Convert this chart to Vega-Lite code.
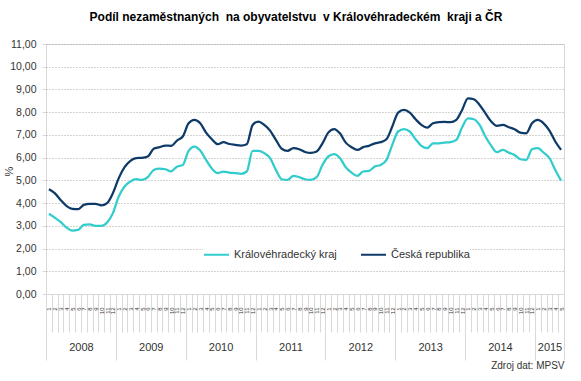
{
  "$schema": "https://vega.github.io/schema/vega-lite/v6.json",
  "width": 518,
  "height": 250,
  "autosize": {"type": "none"},
  "padding": {"left": 46, "top": 44, "right": 17, "bottom": 87},
  "background": "white",
  "config": {
    "font": "Liberation Sans",
    "view": {"stroke": "#d9d9d9", "strokeWidth": 1}
  },
  "title": {
    "text": "Podíl nezaměstnaných\u00a0 na obyvatelstvu\u00a0 v Královéhradeckém\u00a0 kraji a ČR",
    "font": "Liberation Sans",
    "fontSize": 12,
    "fontWeight": "bold",
    "color": "#000000",
    "anchor": "middle",
    "frame": "group",
    "baseline": "alphabetic",
    "offset": 6,
    "dx": -9
  },
  "data": {
    "values": [
      {"t": 0, "year": 2008, "month": 1, "kraj": 3.53, "cr": 4.61},
      {"t": 1, "year": 2008, "month": 2, "kraj": 3.36, "cr": 4.44},
      {"t": 2, "year": 2008, "month": 3, "kraj": 3.17, "cr": 4.14},
      {"t": 3, "year": 2008, "month": 4, "kraj": 2.93, "cr": 3.88},
      {"t": 4, "year": 2008, "month": 5, "kraj": 2.79, "cr": 3.75},
      {"t": 5, "year": 2008, "month": 6, "kraj": 2.82, "cr": 3.73},
      {"t": 6, "year": 2008, "month": 7, "kraj": 3.04, "cr": 3.92},
      {"t": 7, "year": 2008, "month": 8, "kraj": 3.06, "cr": 3.97},
      {"t": 8, "year": 2008, "month": 9, "kraj": 3.00, "cr": 3.97},
      {"t": 9, "year": 2008, "month": 10, "kraj": 3.00, "cr": 3.90},
      {"t": 10, "year": 2008, "month": 11, "kraj": 3.15, "cr": 4.00},
      {"t": 11, "year": 2008, "month": 12, "kraj": 3.56, "cr": 4.44},
      {"t": 12, "year": 2009, "month": 1, "kraj": 4.29, "cr": 5.10},
      {"t": 13, "year": 2009, "month": 2, "kraj": 4.73, "cr": 5.58},
      {"t": 14, "year": 2009, "month": 3, "kraj": 4.95, "cr": 5.86},
      {"t": 15, "year": 2009, "month": 4, "kraj": 5.05, "cr": 5.98},
      {"t": 16, "year": 2009, "month": 5, "kraj": 5.02, "cr": 5.99},
      {"t": 17, "year": 2009, "month": 6, "kraj": 5.14, "cr": 6.05},
      {"t": 18, "year": 2009, "month": 7, "kraj": 5.46, "cr": 6.39},
      {"t": 19, "year": 2009, "month": 8, "kraj": 5.52, "cr": 6.46},
      {"t": 20, "year": 2009, "month": 9, "kraj": 5.49, "cr": 6.53},
      {"t": 21, "year": 2009, "month": 10, "kraj": 5.40, "cr": 6.52},
      {"t": 22, "year": 2009, "month": 11, "kraj": 5.60, "cr": 6.75},
      {"t": 23, "year": 2009, "month": 12, "kraj": 5.68, "cr": 6.93},
      {"t": 24, "year": 2010, "month": 1, "kraj": 6.30, "cr": 7.51},
      {"t": 25, "year": 2010, "month": 2, "kraj": 6.49, "cr": 7.66},
      {"t": 26, "year": 2010, "month": 3, "kraj": 6.31, "cr": 7.51},
      {"t": 27, "year": 2010, "month": 4, "kraj": 5.90, "cr": 7.10},
      {"t": 28, "year": 2010, "month": 5, "kraj": 5.52, "cr": 6.81},
      {"t": 29, "year": 2010, "month": 6, "kraj": 5.32, "cr": 6.59},
      {"t": 30, "year": 2010, "month": 7, "kraj": 5.39, "cr": 6.68},
      {"t": 31, "year": 2010, "month": 8, "kraj": 5.34, "cr": 6.60},
      {"t": 32, "year": 2010, "month": 9, "kraj": 5.32, "cr": 6.56},
      {"t": 33, "year": 2010, "month": 10, "kraj": 5.29, "cr": 6.53},
      {"t": 34, "year": 2010, "month": 11, "kraj": 5.39, "cr": 6.59},
      {"t": 35, "year": 2010, "month": 12, "kraj": 6.30, "cr": 7.44},
      {"t": 36, "year": 2011, "month": 1, "kraj": 6.30, "cr": 7.59},
      {"t": 37, "year": 2011, "month": 2, "kraj": 6.20, "cr": 7.44},
      {"t": 38, "year": 2011, "month": 3, "kraj": 5.98, "cr": 7.19},
      {"t": 39, "year": 2011, "month": 4, "kraj": 5.46, "cr": 6.78},
      {"t": 40, "year": 2011, "month": 5, "kraj": 5.05, "cr": 6.39},
      {"t": 41, "year": 2011, "month": 6, "kraj": 5.02, "cr": 6.30},
      {"t": 42, "year": 2011, "month": 7, "kraj": 5.20, "cr": 6.42},
      {"t": 43, "year": 2011, "month": 8, "kraj": 5.14, "cr": 6.37},
      {"t": 44, "year": 2011, "month": 9, "kraj": 5.05, "cr": 6.25},
      {"t": 45, "year": 2011, "month": 10, "kraj": 5.02, "cr": 6.21},
      {"t": 46, "year": 2011, "month": 11, "kraj": 5.14, "cr": 6.27},
      {"t": 47, "year": 2011, "month": 12, "kraj": 5.68, "cr": 6.63},
      {"t": 48, "year": 2012, "month": 1, "kraj": 6.05, "cr": 7.10},
      {"t": 49, "year": 2012, "month": 2, "kraj": 6.15, "cr": 7.26},
      {"t": 50, "year": 2012, "month": 3, "kraj": 5.98, "cr": 7.07},
      {"t": 51, "year": 2012, "month": 4, "kraj": 5.58, "cr": 6.66},
      {"t": 52, "year": 2012, "month": 5, "kraj": 5.34, "cr": 6.46},
      {"t": 53, "year": 2012, "month": 6, "kraj": 5.20, "cr": 6.34},
      {"t": 54, "year": 2012, "month": 7, "kraj": 5.39, "cr": 6.46},
      {"t": 55, "year": 2012, "month": 8, "kraj": 5.42, "cr": 6.52},
      {"t": 56, "year": 2012, "month": 9, "kraj": 5.61, "cr": 6.63},
      {"t": 57, "year": 2012, "month": 10, "kraj": 5.68, "cr": 6.68},
      {"t": 58, "year": 2012, "month": 11, "kraj": 5.90, "cr": 6.81},
      {"t": 59, "year": 2012, "month": 12, "kraj": 6.56, "cr": 7.37},
      {"t": 60, "year": 2013, "month": 1, "kraj": 7.15, "cr": 7.98},
      {"t": 61, "year": 2013, "month": 2, "kraj": 7.25, "cr": 8.10},
      {"t": 62, "year": 2013, "month": 3, "kraj": 7.15, "cr": 7.98},
      {"t": 63, "year": 2013, "month": 4, "kraj": 6.81, "cr": 7.69},
      {"t": 64, "year": 2013, "month": 5, "kraj": 6.52, "cr": 7.44},
      {"t": 65, "year": 2013, "month": 6, "kraj": 6.42, "cr": 7.32},
      {"t": 66, "year": 2013, "month": 7, "kraj": 6.63, "cr": 7.51},
      {"t": 67, "year": 2013, "month": 8, "kraj": 6.63, "cr": 7.56},
      {"t": 68, "year": 2013, "month": 9, "kraj": 6.66, "cr": 7.57},
      {"t": 69, "year": 2013, "month": 10, "kraj": 6.68, "cr": 7.56},
      {"t": 70, "year": 2013, "month": 11, "kraj": 6.78, "cr": 7.66},
      {"t": 71, "year": 2013, "month": 12, "kraj": 7.34, "cr": 8.10},
      {"t": 72, "year": 2014, "month": 1, "kraj": 7.73, "cr": 8.61},
      {"t": 73, "year": 2014, "month": 2, "kraj": 7.69, "cr": 8.57},
      {"t": 74, "year": 2014, "month": 3, "kraj": 7.44, "cr": 8.32},
      {"t": 75, "year": 2014, "month": 4, "kraj": 6.93, "cr": 7.95},
      {"t": 76, "year": 2014, "month": 5, "kraj": 6.52, "cr": 7.59},
      {"t": 77, "year": 2014, "month": 6, "kraj": 6.24, "cr": 7.40},
      {"t": 78, "year": 2014, "month": 7, "kraj": 6.34, "cr": 7.44},
      {"t": 79, "year": 2014, "month": 8, "kraj": 6.22, "cr": 7.34},
      {"t": 80, "year": 2014, "month": 9, "kraj": 6.12, "cr": 7.25},
      {"t": 81, "year": 2014, "month": 10, "kraj": 5.93, "cr": 7.10},
      {"t": 82, "year": 2014, "month": 11, "kraj": 5.90, "cr": 7.07},
      {"t": 83, "year": 2014, "month": 12, "kraj": 6.37, "cr": 7.51},
      {"t": 84, "year": 2015, "month": 1, "kraj": 6.42, "cr": 7.66},
      {"t": 85, "year": 2015, "month": 2, "kraj": 6.22, "cr": 7.51},
      {"t": 86, "year": 2015, "month": 3, "kraj": 5.98, "cr": 7.19},
      {"t": 87, "year": 2015, "month": 4, "kraj": 5.46, "cr": 6.71},
      {"t": 88, "year": 2015, "month": 5, "kraj": 4.99, "cr": 6.34}
    ]
  },
  "transform": [{"fold": ["kraj", "cr"], "as": ["series", "value"]}],
  "encoding": {
    "y": {
      "field": "value",
      "type": "quantitative",
      "scale": {"domain": [0, 11], "nice": false},
      "axis": {
        "values": [0, 1, 2, 3, 4, 5, 6, 7, 8, 9, 10, 11],
        "labelExpr": "replace(format(datum.value, '.2f'), '.', ',')",
        "labelFontSize": 10.5,
        "labelColor": "#333333",
        "labelPadding": 6,
        "tickSize": 4,
        "tickColor": "#d9d9d9",
        "domain": false,
        "grid": true,
        "gridColor": "#a6a6a6",
        "gridDash": [1, 2],
        "gridWidth": 1,
        "title": "%",
        "titleFontSize": 11,
        "titleFontWeight": "normal",
        "titleColor": "#333333",
        "titleAngle": 270,
        "titleX": -37,
        "titleY": 127,
        "titleAlign": "center",
        "titleBaseline": "middle"
      }
    },
    "color": {
      "field": "series",
      "type": "nominal",
      "scale": {"domain": ["kraj", "cr"], "range": ["#33CCCC", "#0E3A68"]},
      "legend": {
        "orient": "none",
        "direction": "horizontal",
        "legendX": 157,
        "legendY": 197,
        "title": null,
        "labelExpr": "datum.value == 'kraj' ? 'Královéhradecký kraj' : 'Česká republika'",
        "labelFontSize": 11,
        "labelColor": "#333333",
        "labelOffset": 4,
        "columnPadding": 20,
        "symbolType": "stroke",
        "symbolSize": 625,
        "symbolStrokeWidth": 2,
        "fillColor": "white",
        "padding": 0
      }
    }
  },
  "layer": [
    {
      "transform": [{"filter": "datum.series == 'kraj'"}],
      "mark": {"type": "line", "interpolate": "monotone", "strokeWidth": 2.25},
      "encoding": {
        "x": {
          "field": "t",
          "type": "quantitative",
          "scale": {"domain": [-0.5, 88.5], "nice": false, "zero": false},
          "axis": {
            "orient": "bottom",
            "title": null,
            "grid": false,
            "values": [0,1,2,3,4,5,6,7,8,9,10,11,12,13,14,15,16,17,18,19,20,21,22,23,24,25,26,27,28,29,30,31,32,33,34,35,36,37,38,39,40,41,42,43,44,45,46,47,48,49,50,51,52,53,54,55,56,57,58,59,60,61,62,63,64,65,66,67,68,69,70,71,72,73,74,75,76,77,78,79,80,81,82,83,84,85,86,87,88],
            "labelExpr": "'' + ((datum.value % 12) + 1)",
            "labelAngle": 270,
            "labelFontSize": 6,
            "labelColor": "#333333",
            "labelPadding": -25,
            "labelOffset": 2.91,
            "tickOffset": -2.91,
            "tickSize": 38,
            "tickColor": "#d9d9d9",
            "domainColor": "#d9d9d9",
            "labelOverlap": false,
            "labelFlush": false,
            "labelBound": false
          }
        }
      }
    },
    {
      "transform": [{"filter": "datum.series == 'cr'"}],
      "mark": {"type": "line", "interpolate": "monotone", "strokeWidth": 2.25},
      "encoding": {
        "x": {
          "field": "t",
          "type": "quantitative",
          "scale": {"domain": [-0.5, 88.5], "nice": false, "zero": false},
          "axis": {
            "orient": "bottom",
            "grid": false,
            "domain": false,
            "values": [-0.5, 11.5, 23.5, 35.5, 47.5, 59.5, 71.5, 83.5, 88.5],
            "labelExpr": "datum.value > 88 ? '' : '' + (2008 + round((datum.value + 0.5) / 12))",
            "labelFontSize": 11,
            "labelColor": "#333333",
            "labelPadding": -19,
            "labelOffset": {"condition": {"test": "datum.value > 80", "value": 14.6}, "value": 34.9},
            "tickSize": 66,
            "tickColor": "#d9d9d9",
            "labelOverlap": false,
            "labelFlush": false,
            "labelBound": false,
            "title": "Zdroj dat: MPSV",
            "titleFontSize": 10,
            "titleFontWeight": "normal",
            "titleColor": "#333333",
            "titleX": 518,
            "titleY": 71,
            "titleAlign": "right",
            "titleAnchor": "end",
            "titleBaseline": "middle"
          }
        }
      }
    }
  ],
  "resolve": {"axis": {"x": "independent"}}
}
